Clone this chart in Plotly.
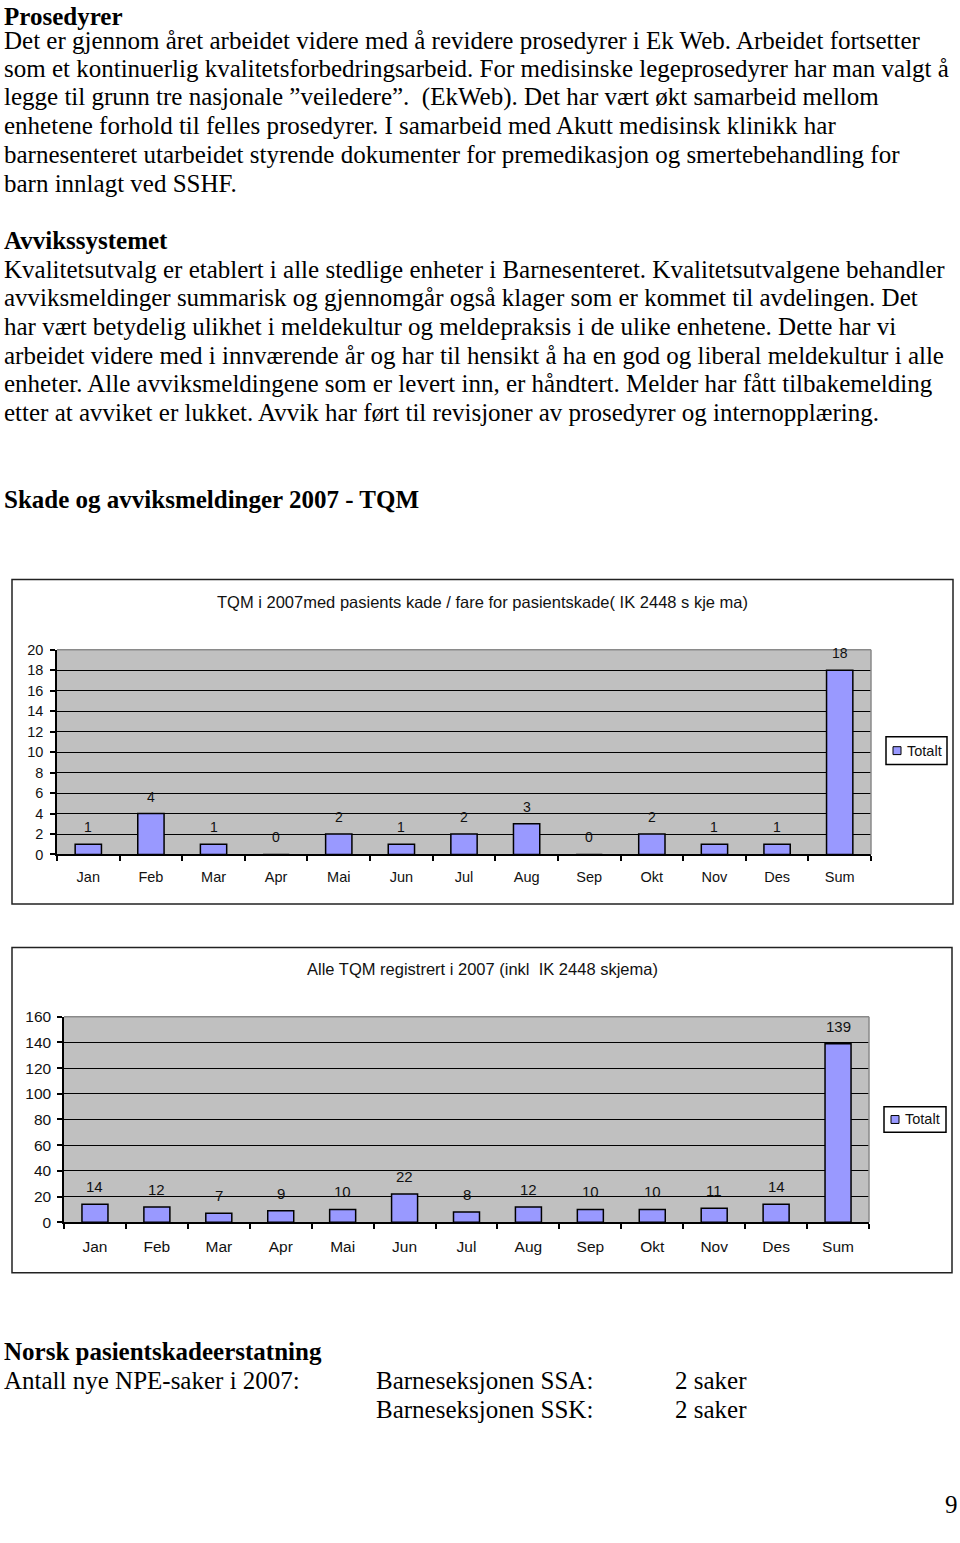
import plotly.graph_objects as go

# The page sits 8px below the top of the window; the figure height is reduced to fit.
TOP = 8
W, H = 960, 1543 - 2 * TOP

months = ["Jan", "Feb", "Mar", "Apr", "Mai", "Jun", "Jul", "Aug", "Sep", "Okt", "Nov", "Des", "Sum"]
skade_values = [1, 4, 1, 0, 2, 1, 2, 3, 0, 2, 1, 1, 18]
alle_values = [14, 12, 7, 9, 10, 22, 8, 12, 10, 10, 11, 14, 139]
chart1_title = "TQM i 2007med pasients kade / fare for pasientskade( IK 2448 s kje ma)"
chart2_title = "Alle TQM registrert i 2007 (inkl  IK 2448 skjema)"
series_name = "Totalt"

page_lines = [
    ("<b>Prosedyrer</b>", 3, 16),
    ("Det er gjennom året arbeidet videre med å revidere prosedyrer i Ek Web. Arbeidet fortsetter", 3, 40),
    ("som et kontinuerlig kvalitetsforbedringsarbeid. For medisinske legeprosedyrer har man valgt å", 3, 68),
    ("legge til grunn tre nasjonale ”veiledere”.  (EkWeb). Det har vært økt samarbeid mellom", 3, 97),
    ("enhetene forhold til felles prosedyrer. I samarbeid med Akutt medisinsk klinikk har", 3, 126),
    ("barnesenteret utarbeidet styrende dokumenter for premedikasjon og smertebehandling for", 3, 155),
    ("barn innlagt ved SSHF.", 3, 184),
    ("<b>Avvikssystemet</b>", 3, 242),
    ("Kvalitetsutvalg er etablert i alle stedlige enheter i Barnesenteret. Kvalitetsutvalgene behandler", 3, 271),
    ("avviksmeldinger summarisk og gjennomgår også klager som er kommet til avdelingen. Det", 3, 300),
    ("har vært betydelig ulikhet i meldekultur og meldepraksis i de ulike enhetene. Dette har vi", 3, 329),
    ("arbeidet videre med i innværende år og har til hensikt å ha en god og liberal meldekultur i alle", 3, 358),
    ("enheter. Alle avviksmeldingene som er levert inn, er håndtert. Melder har fått tilbakemelding", 3, 387),
    ("etter at avviket er lukket. Avvik har ført til revisjoner av prosedyrer og internopplæring.", 3, 416),
    ("<b>Skade og avviksmeldinger 2007 - TQM</b>", 3, 504),
    ("<b>Norsk pasientskadeerstatning</b>", 3, 1366),
    ("Antall nye NPE-saker i 2007:", 3, 1395),
    ("Barneseksjonen SSA:", 375, 1395),
    ("2 saker", 674, 1395),
    ("Barneseksjonen SSK:", 375, 1424),
    ("2 saker", 674, 1424),
]

def px(x):
    return x / W

def py(y):
    return 1 - (y - TOP) / H

# layout geometry (page pixels)
box1 = (12, 585, 953, 913)
plot1 = (57, 656, 871, 863)
leg1 = (886, 744, 947, 772)
title1_y = 608

box2 = (12, 957, 952, 1286)
plot2 = (64, 1027, 869, 1235)
leg2 = (884, 1118, 946, 1144)
title2_y = 979

BAR = "#9999ff"
GRAY = "#c0c0c0"
CF = "Liberation Sans, Arial, sans-serif"
SF = "Liberation Serif, Times New Roman, serif"

fig = go.Figure()
fig.add_trace(go.Bar(x=months, y=skade_values, name=series_name, xaxis="x", yaxis="y",
                     marker=dict(color=BAR, line=dict(color="black", width=1.5)), width=0.42,
                     showlegend=False, hoverinfo="x+y"))
fig.add_trace(go.Bar(x=months, y=alle_values, name=series_name, xaxis="x2", yaxis="y2",
                     marker=dict(color=BAR, line=dict(color="black", width=1.5)), width=0.42,
                     showlegend=False, hoverinfo="x+y"))

def xaxis_cfg(p, fs, standoff):
    return dict(domain=[px(p[0]), px(p[2])], type="category", showgrid=False,
                showline=True, linecolor="black", linewidth=1.5, ticks="outside",
                tickson="boundaries", ticklen=5, tickcolor="black", tickwidth=1.5,
                tickfont=dict(family=CF, size=fs, color="#111"), ticklabelstandoff=standoff,
                zeroline=False, fixedrange=True)

def yaxis_cfg(p, rng, dtick, anchor, fs, standoff):
    return dict(domain=[py(p[3]), py(p[1])], range=rng, dtick=dtick, showgrid=True,
                gridcolor="black", gridwidth=1, showline=True, linecolor="black",
                linewidth=1.5, ticks="outside", ticklen=5, tickcolor="black", tickwidth=1.5,
                tickfont=dict(family=CF, size=fs, color="#111"), ticklabelstandoff=standoff,
                zeroline=False, anchor=anchor, fixedrange=True)

fig.update_layout(
    width=W, height=H, margin=dict(l=0, r=0, t=0, b=0),
    paper_bgcolor="white", plot_bgcolor=GRAY, showlegend=False, bargap=0.58,
    xaxis=dict(xaxis_cfg(plot1, 14.5, 8), anchor="y"),
    yaxis=yaxis_cfg(plot1, [0, 20], 2, "x", 14.5, 4),
    xaxis2=dict(xaxis_cfg(plot2, 15.5, 9), anchor="y2"),
    yaxis2=yaxis_cfg(plot2, [0, 160], 20, "x2", 15.5, 3),
)

shapes = []
annotations = []

for b in (box1, box2):
    shapes.append(dict(type="rect", xref="paper", yref="paper", x0=px(b[0]), x1=px(b[2]),
                       y0=py(b[3]), y1=py(b[1]), line=dict(color="#222", width=1.5),
                       fillcolor="rgba(0,0,0,0)", layer="below"))

for p in (plot1, plot2):
    shapes.append(dict(type="line", xref="paper", yref="paper", x0=px(p[0]), x1=px(p[2]),
                       y0=py(p[1]), y1=py(p[1]), line=dict(color="#8a8a8a", width=1.5)))
    shapes.append(dict(type="line", xref="paper", yref="paper", x0=px(p[2]), x1=px(p[2]),
                       y0=py(p[3]), y1=py(p[1]), line=dict(color="#8a8a8a", width=1.5)))

for lg in (leg1, leg2):
    shapes.append(dict(type="rect", xref="paper", yref="paper", x0=px(lg[0]), x1=px(lg[2]),
                       y0=py(lg[3]), y1=py(lg[1]), line=dict(color="black", width=1.5),
                       fillcolor="white"))
    cy = (lg[1] + lg[3]) / 2
    shapes.append(dict(type="rect", xref="paper", yref="paper", x0=px(lg[0] + 7), x1=px(lg[0] + 15),
                       y0=py(cy + 4), y1=py(cy - 4), line=dict(color="black", width=1),
                       fillcolor=BAR))
    annotations.append(dict(text=series_name, xref="paper", yref="paper", x=px(lg[0] + 19), y=py(cy),
                            xanchor="left", yanchor="middle", showarrow=False,
                            font=dict(family=CF, size=14.5, color="#111")))

for t, ty in ((chart1_title, title1_y), (chart2_title, title2_y)):
    annotations.append(dict(text=t, xref="paper", yref="paper", x=px(482), y=py(ty),
                            xanchor="center", yanchor="middle", showarrow=False,
                            font=dict(family=CF, size=16.5, color="#111")))

for xr, yr, vals, fs in (("x", "y", skade_values, 14), ("x2", "y2", alle_values, 15)):
    for m, v in zip(months, vals):
        annotations.append(dict(text=str(v), xref=xr, yref=yr, x=m, y=v, xanchor="center",
                                yanchor="bottom", yshift=7, showarrow=False,
                                font=dict(family=CF, size=fs, color="#111")))

for text, x, y in page_lines:
    annotations.append(dict(text=text, xref="paper", yref="paper", x=px(x), y=py(y),
                            xanchor="left", yanchor="middle", showarrow=False, borderpad=0,
                            font=dict(family=SF, size=25, color="black")))

annotations.append(dict(text="9", xref="paper", yref="paper", x=px(959), y=0,
                        xanchor="right", yanchor="bottom", showarrow=False, borderpad=0,
                        font=dict(family=SF, size=25, color="black")))

fig.update_layout(shapes=shapes, annotations=annotations)
fig.write_html("out.html")
